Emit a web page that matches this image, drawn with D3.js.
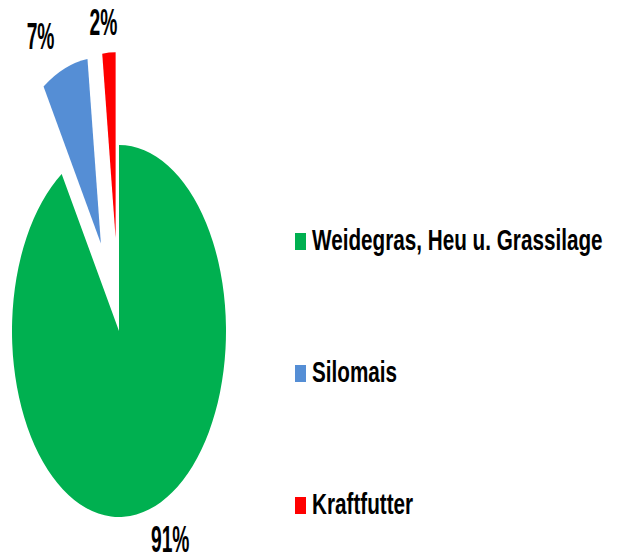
<!DOCTYPE html>
<html><head><meta charset="utf-8">
<script src="https://cdn.jsdelivr.net/npm/d3@7"></script>
<style>html,body{margin:0;padding:0;background:#fff;}svg{display:block;}</style>
</head><body>
<svg id="chart" width="621" height="560"></svg>
<script>
const categories = ["Weidegras, Heu u. Grassilage", "Silomais", "Kraftfutter"];
const values = [91, 7, 2];
const labels = ["91%", "7%", "2%"];
const colors = ["#00B050", "#558ED5", "#FF0000"];
const explode = [0, 0.5, 0.5];

const svg = d3.select("#chart");
const W = 621, H = 560;
const cx = 119, cy = 331, ry = 186, rx = 107;
const sx = rx / ry;
const font = "'Liberation Sans', Arial, sans-serif";

const pie = d3.pie().sort(null).value(d => d)(values);
const arc = d3.arc().innerRadius(0).outerRadius(ry);

const g = svg.append("g").attr("transform", `translate(${cx},${cy}) scale(${sx},1)`);
g.selectAll("path").data(pie).join("path")
  .attr("d", arc)
  .attr("fill", (d, i) => colors[i])
  .attr("transform", (d, i) => {
    const a = (d.startAngle + d.endAngle) / 2;
    const o = explode[i] * ry;
    return `translate(${Math.sin(a) * o},${-Math.cos(a) * o})`;
  });

// data labels (outside end)
const labelBias = [-7, -7, -2].map(v => v * Math.PI / 180);
const labelR = [1.215, 1.25, 1.17];
svg.selectAll("text.lbl").data(pie).join("text")
  .attr("class", "lbl")
  .attr("transform", (d, i) => {
    const a = (d.startAngle + d.endAngle) / 2;
    const o = explode[i] * ry;
    const la = a + labelBias[i];
    const x = cx + (Math.sin(a) * o + Math.sin(la) * ry * labelR[i]) * sx;
    const y = cy - Math.cos(a) * o - Math.cos(la) * ry * labelR[i];
    return `translate(${x},${y}) scale(0.52,1)`;
  })
  .attr("text-anchor", "middle")
  .attr("dy", "0.36em")
  .attr("font-family", font)
  .attr("font-weight", "bold")
  .attr("font-size", 37)
  .attr("fill", "#000")
  .text((d, i) => labels[i]);

// legend
const legY = d3.scalePoint().domain(categories).range([250, 514]);
const leg = svg.selectAll("g.leg").data(categories).join("g")
  .attr("class", "leg")
  .attr("transform", d => `translate(295,${legY(d)})`);
leg.append("rect")
  .attr("x", 0).attr("y", -17).attr("width", 11).attr("height", 17)
  .attr("fill", (d, i) => colors[i]);
leg.append("text")
  .attr("transform", "translate(17,0) scale(0.69,1)")
  .attr("font-family", font)
  .attr("font-weight", "bold")
  .attr("font-size", 30)
  .attr("fill", "#000")
  .text(d => d);
</script>
</body></html>
